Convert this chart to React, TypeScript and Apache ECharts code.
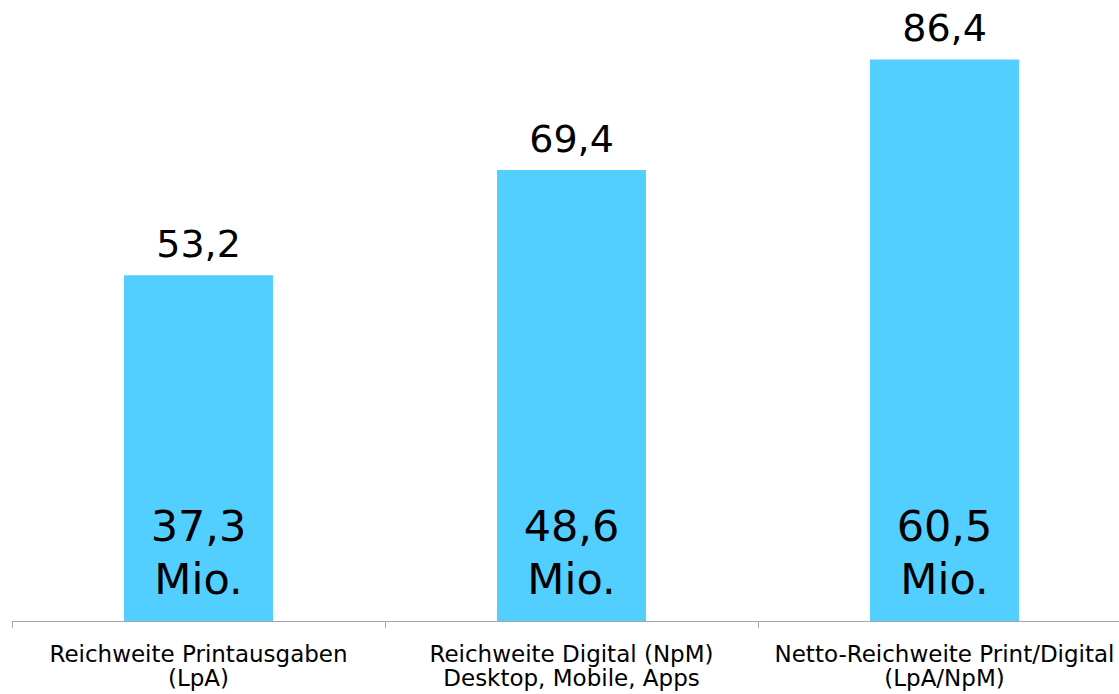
import React, { useEffect, useRef } from "react";
import * as echarts from "echarts";

const categories = [
  "Reichweite Printausgaben\n(LpA)",
  "Reichweite Digital (NpM)\nDesktop, Mobile, Apps",
  "Netto-Reichweite Print/Digital\n(LpA/NpM)",
];
const percentValues = [53.2, 69.4, 86.4];
const millionValues = [37.3, 48.6, 60.5];

const fmt = (v: number) => v.toFixed(1).replace(".", ",");
const FONT = "'DejaVu Sans', Verdana, sans-serif";

export default function App() {
  const ref = useRef<HTMLDivElement>(null);
  useEffect(() => {
    if (!ref.current) return;
    const chart = echarts.init(ref.current, undefined, { renderer: "svg" });
    chart.setOption({
      animation: false,
      backgroundColor: "#ffffff",
      grid: { left: 12, right: 0, top: 0, bottom: 73, containLabel: false },
      xAxis: {
        type: "category",
        data: categories,
        boundaryGap: true,
        axisLine: { show: true, lineStyle: { color: "#a6a6a6", width: 1 } },
        axisTick: { show: true, interval: 0, length: 7, lineStyle: { color: "#a6a6a6" } },
        axisLabel: {
          interval: 0,
          margin: 21,
          color: "#000000",
          fontFamily: FONT,
          fontSize: 23,
          lineHeight: 24,
        },
      },
      yAxis: {
        type: "value",
        min: 0,
        max: 621 / 6.5,
        show: false,
        splitLine: { show: false },
      },
      series: [
        {
          type: "bar",
          data: percentValues,
          barWidth: 149,
          itemStyle: { color: "#53CFFF" },
          label: {
            show: true,
            position: "top",
            distance: 12,
            color: "#000000",
            fontFamily: FONT,
            fontSize: 38,
            lineHeight: 38,
            formatter: (p: any) => fmt(p.value),
          },
        },
        {
          type: "bar",
          data: percentValues,
          barWidth: 149,
          barGap: "-100%",
          itemStyle: { color: "rgba(0,0,0,0)" },
          label: {
            show: true,
            position: "insideBottom",
            distance: 16,
            color: "#000000",
            fontFamily: FONT,
            fontSize: 43,
            lineHeight: 53,
            formatter: (p: any) => `${fmt(millionValues[p.dataIndex])}\nMio.`,
          },
          z: 3,
        },
      ],
    });
    return () => chart.dispose();
  }, []);
  return (
    <div
      style={{
        position: "absolute",
        left: 0,
        top: 0,
        width: 1119,
        height: 694,
        overflow: "hidden",
      }}
    >
      <div ref={ref} style={{ width: 1131, height: 694 }} />
    </div>
  );
}
